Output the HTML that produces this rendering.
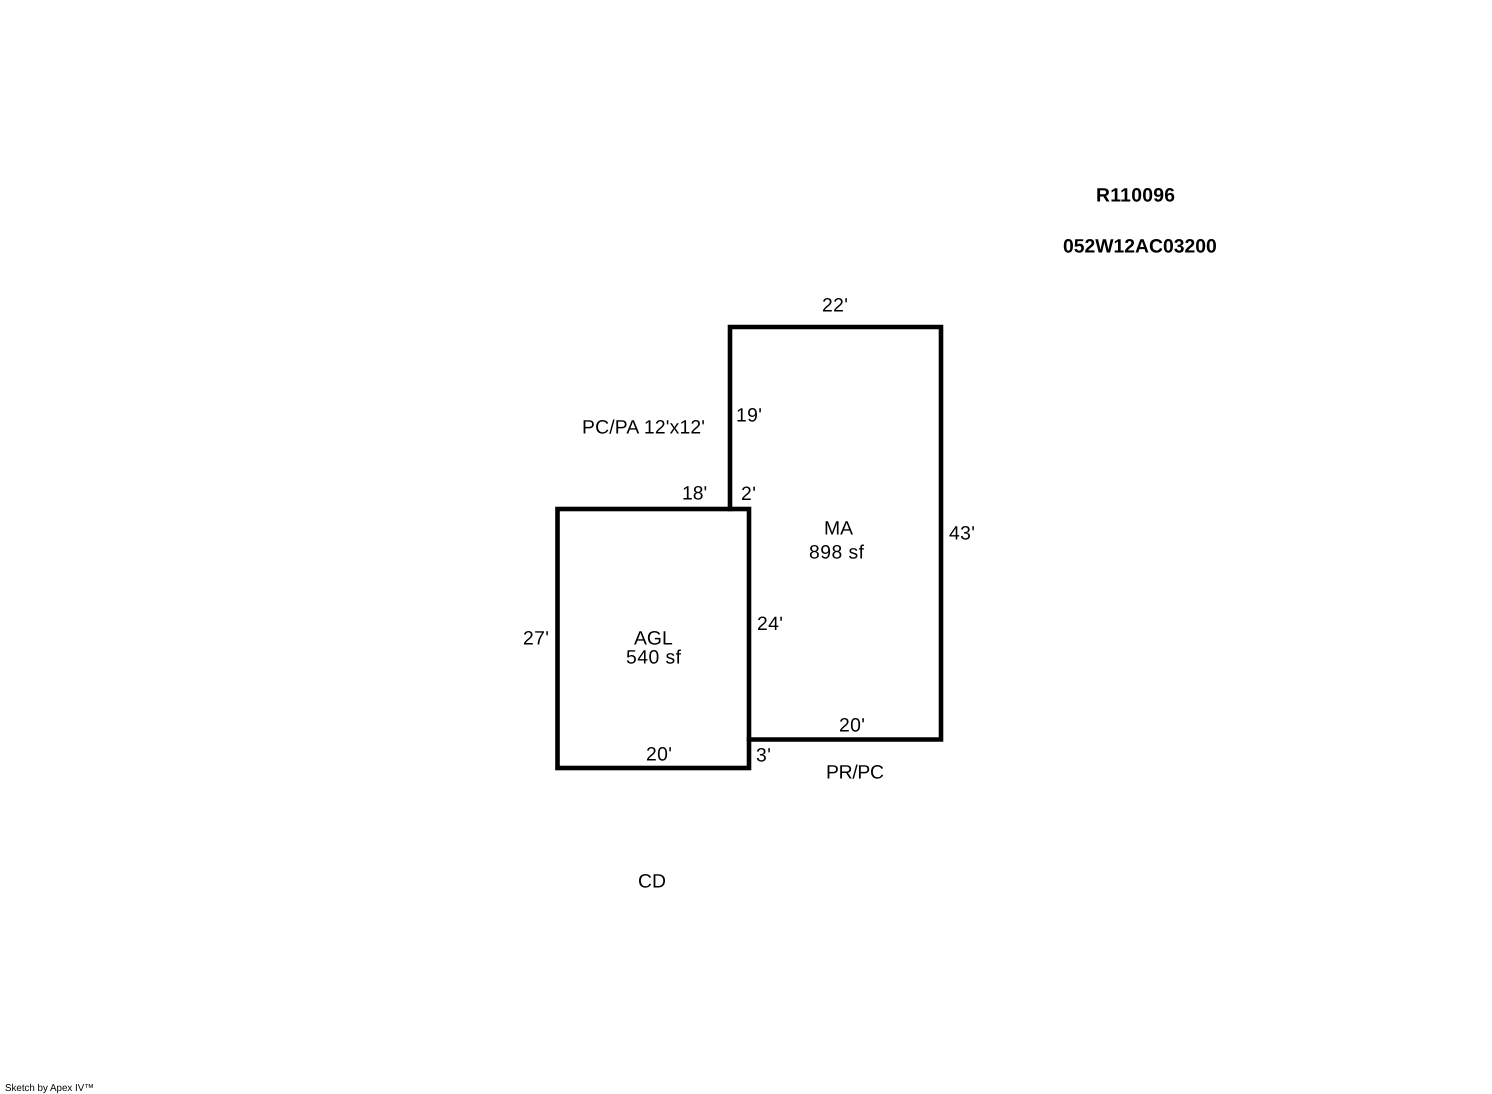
<!DOCTYPE html>
<html>
<head>
<meta charset="utf-8">
<title>Sketch</title>
<style>
html,body{margin:0;padding:0;background:#fff;width:1492px;height:1094px;overflow:hidden}
svg{display:block}
text{font-family:"Liberation Sans",Arial,sans-serif;font-size:19.35px;fill:#000;text-rendering:geometricPrecision}
.b{font-weight:bold}
</style>
</head>
<body>
<svg width="1492" height="1094" viewBox="0 0 1492 1094" xmlns="http://www.w3.org/2000/svg">
<rect width="1492" height="1094" fill="#fff"/>
<g fill="none" stroke="#000" stroke-width="4.6" stroke-linecap="square" stroke-linejoin="miter">
<path d="M730 509V327H941V739.5H749"/>
<rect x="557.5" y="509" width="191.5" height="259"/>
</g>
<text class="b" x="1096" y="201.5" textLength="79">R110096</text>
<text class="b" x="1063" y="252.5">052W12AC03200</text>
<text x="822" y="311.5" textLength="26">22'</text>
<text x="736" y="421.5" textLength="26">19'</text>
<text x="582" y="433.5" textLength="123">PC/PA 12'x12'</text>
<text x="682" y="499.5">18'</text>
<text x="741" y="500" textLength="15">2'</text>
<text x="824" y="534.5">MA</text>
<text x="809" y="558.5" textLength="55">898 sf</text>
<text x="949" y="539.5" textLength="26">43'</text>
<text x="523" y="644.5" textLength="26">27'</text>
<text x="634" y="644.5">AGL</text>
<text x="626" y="663.5" textLength="55">540 sf</text>
<text x="757" y="630" textLength="26">24'</text>
<text x="839" y="731.5" textLength="26">20'</text>
<text x="646" y="760.5" textLength="26">20'</text>
<text x="756" y="761.5" textLength="15">3'</text>
<text x="826" y="778.5" textLength="58">PR/PC</text>
<text x="638" y="887.5">CD</text>
<text x="5" y="1091" style="font-size:10px" textLength="89" lengthAdjust="spacingAndGlyphs">Sketch by Apex IV™</text>
</svg>
</body>
</html>
